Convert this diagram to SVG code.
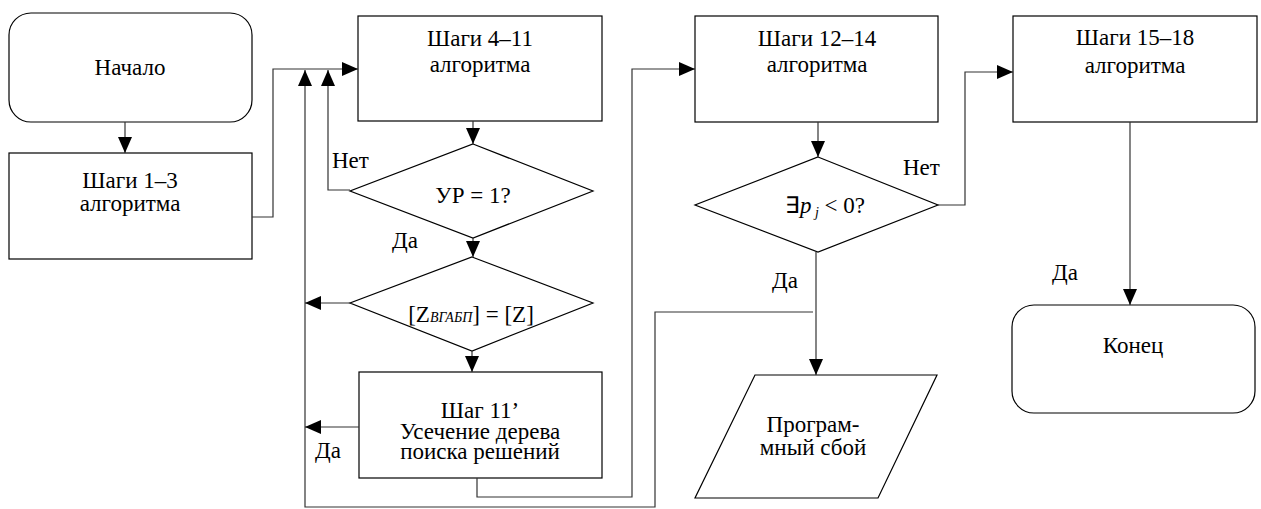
<svg xmlns="http://www.w3.org/2000/svg" width="1261" height="509" viewBox="0 0 1261 509">
<style>
.n{fill:#fff;stroke:#000;stroke-width:1.2}
.c{fill:none;stroke:#333;stroke-width:1.2}
.m{text-anchor:middle}
</style>
<defs>
<marker id="ah" markerUnits="userSpaceOnUse" markerWidth="16" markerHeight="14" refX="16" refY="7" orient="auto">
<path d="M0,0 L16,7 L0,14 z" fill="#000"/>
</marker>
</defs>
<g font-family="Liberation Serif, serif" font-size="23" fill="#000">
<g id="start"><rect class="n" x="9" y="13" width="243" height="109" rx="22"/><text class="m" x="130" y="75">Начало</text></g>
<g id="s1"><rect class="n" x="9" y="153" width="243" height="106"/><text class="m" x="130" y="188">Шаги 1–3</text><text class="m" x="130" y="211">алгоритма</text></g>
<g id="s4"><rect class="n" x="358" y="16" width="244" height="105"/><text class="m" x="480" y="46">Шаги 4–11</text><text class="m" x="480" y="72">алгоритма</text></g>
<g id="d1"><polygon class="n" points="473,144 593,191 473,238 350,191"/><text class="m" x="473" y="203">УР = 1?</text></g>
<g id="d2"><polygon class="n" points="472,257 593,303 472,351 350,303"/><text class="m" x="471" y="322">[Z<tspan font-style="italic" font-size="14">ВГАБП</tspan>] = [Z]</text></g>
<g id="s11"><rect class="n" x="359" y="372" width="243" height="106"/><text class="m" x="480" y="418">Шаг 11’</text><text class="m" x="480" y="439">Усечение дерева</text><text class="m" x="480" y="459">поиска решений</text></g>
<g id="s12"><rect class="n" x="695" y="16" width="243" height="106"/><text class="m" x="817" y="46">Шаги 12–14</text><text class="m" x="817" y="72">алгоритма</text></g>
<g id="d3"><polygon class="n" points="818,157 938,205 818,252 695,205"/><text class="m" x="825" y="213">∃<tspan font-style="italic">p</tspan><tspan font-style="italic" font-size="14" dy="4"> j</tspan><tspan dy="-4"> &lt; 0?</tspan></text></g>
<g id="err"><polygon class="n" points="755,375 937,375 878,498 695,498"/><text class="m" x="813" y="432">Програм-</text><text class="m" x="813" y="455">мный сбой</text></g>
<g id="s15"><rect class="n" x="1013" y="16" width="244" height="106"/><text class="m" x="1135" y="45">Шаги 15–18</text><text class="m" x="1135" y="73">алгоритма</text></g>
<g id="end"><rect class="n" x="1012" y="305" width="243" height="108" rx="22"/><text class="m" x="1133" y="353">Конец</text></g>
<g id="labels">
<text x="332" y="168">Нет</text>
<text x="392" y="248">Да</text>
<text x="315" y="458">Да</text>
<text x="903" y="175">Нет</text>
<text x="772" y="288">Да</text>
<text x="1052" y="280">Да</text>
</g>
</g>
<g id="connectors">
<path class="c" d="M125,122 V153" marker-end="url(#ah)"/>
<path class="c" d="M252,217 H273 V69 H358" marker-end="url(#ah)"/>
<path class="c" d="M350,190 H328 V70" marker-end="url(#ah)"/>
<path class="c" d="M813,312 H655 V507 H305 V70" marker-end="url(#ah)"/>
<path class="c" d="M350,303 H305" marker-end="url(#ah)"/>
<path class="c" d="M359,427 H305" marker-end="url(#ah)"/>
<path class="c" d="M477,478 V497 H632 V69 H695" marker-end="url(#ah)"/>
<path class="c" d="M473,121 V144" marker-end="url(#ah)"/>
<path class="c" d="M473,238 V257" marker-end="url(#ah)"/>
<path class="c" d="M472,351 V372" marker-end="url(#ah)"/>
<path class="c" d="M818,122 V157" marker-end="url(#ah)"/>
<path class="c" d="M816,252 V375" marker-end="url(#ah)"/>
<path class="c" d="M938,205 H965 V72 H1013" marker-end="url(#ah)"/>
<path class="c" d="M1130,122 V305" marker-end="url(#ah)"/>
</g>
</svg>
